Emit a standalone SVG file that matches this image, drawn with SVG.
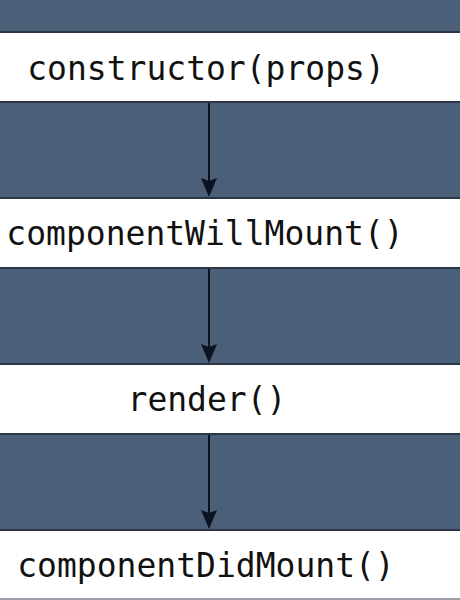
<svg xmlns="http://www.w3.org/2000/svg" width="460" height="600" viewBox="0 0 460 600">
<style>
.band{fill:#ffffff}
.edge{stroke:#2b3545;stroke-width:2}
.lbl{font-family:"DejaVu Sans Mono",monospace;font-size:33px;fill:#111;text-anchor:middle}
.conn{stroke:#0d1220;stroke-width:2;fill:none}
.head{fill:#0d1220}
</style>
<rect x="0" y="0" width="460" height="600" fill="#4b5f79"/>
<g id="n1">
<rect class="band" x="0" y="32" width="460" height="69"/>
<line class="edge" x1="0" y1="32" x2="460" y2="32"/>
<line class="edge" x1="0" y1="102" x2="460" y2="102"/>
<text class="lbl" x="206" y="80">constructor(props)</text>
</g>
<g id="n2">
<rect class="band" x="0" y="198" width="460" height="69"/>
<line class="edge" x1="0" y1="198" x2="460" y2="198"/>
<line class="edge" x1="0" y1="268" x2="460" y2="268"/>
<text class="lbl" x="205" y="245">componentWillMount()</text>
</g>
<g id="n3">
<rect class="band" x="0" y="364" width="460" height="69"/>
<line class="edge" x1="0" y1="364" x2="460" y2="364"/>
<line class="edge" x1="0" y1="434" x2="460" y2="434"/>
<text class="lbl" x="207" y="411">render()</text>
</g>
<g id="n4">
<rect class="band" x="0" y="530" width="460" height="68"/>
<line class="edge" x1="0" y1="530" x2="460" y2="530"/>
<line x1="0" y1="599" x2="460" y2="599" stroke="#9a9ea6" stroke-width="2"/>
<text class="lbl" x="206" y="577">componentDidMount()</text>
</g>
<g id="connectors">
<line class="conn" x1="209" y1="103" x2="209" y2="182"/>
<path class="head" d="M201,178 L209,181 L217,178 L209,197 Z"/>
<line class="conn" x1="209" y1="269" x2="209" y2="348"/>
<path class="head" d="M201,344 L209,347 L217,344 L209,363 Z"/>
<line class="conn" x1="209" y1="435" x2="209" y2="514"/>
<path class="head" d="M201,510 L209,513 L217,510 L209,529 Z"/>
</g>
</svg>
